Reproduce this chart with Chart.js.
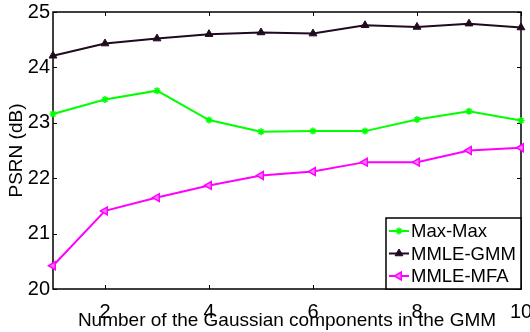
<!DOCTYPE html>
<html>
<head>
<meta charset="utf-8">
<script src="https://cdn.jsdelivr.net/npm/chart.js@4.4.0/dist/chart.umd.min.js"></script>
<style>
  html, body { margin: 0; padding: 0; background: #fff; }
  #wrap { width: 530px; height: 332px; }
</style>
</head>
<body>
<div id="wrap"><canvas id="myChart"></canvas></div>
<script>
const components = [1, 2, 3, 4, 5, 6, 7, 8, 9, 10];
const maxMax = [23.16, 23.42, 23.58, 23.05, 22.84, 22.85, 22.85, 23.06, 23.21, 23.04];
const mmleGmm = [24.21, 24.43, 24.52, 24.60, 24.63, 24.61, 24.76, 24.73, 24.79, 24.72];
const mmleMfa = [20.42, 21.41, 21.65, 21.87, 22.05, 22.12, 22.29, 22.29, 22.50, 22.55];
const xTicks = [2, 4, 6, 8, 10];
const yTicks = [20, 21, 22, 23, 24, 25];

const FONT = 'Liberation Sans, Arial, sans-serif';

function points(values) {
  return components.map((c, i) => ({ x: c, y: values[i] }));
}

// matlab style box with inward ticks
const framePlugin = {
  id: 'frame',
  beforeDatasetsDraw(chart) {
    const { ctx, chartArea: a, scales: { x, y } } = chart;
    ctx.save();
    ctx.strokeStyle = '#000';
    ctx.lineWidth = 1.5;
    ctx.strokeRect(a.left, a.top, a.right - a.left, a.bottom - a.top);
    ctx.lineWidth = 1;
    ctx.beginPath();
    xTicks.forEach(v => {
      const px = Math.round(x.getPixelForValue(v)) + 0.5;
      ctx.moveTo(px, a.bottom); ctx.lineTo(px, a.bottom - 4);
      ctx.moveTo(px, a.top); ctx.lineTo(px, a.top + 4);
    });
    yTicks.forEach(v => {
      const py = Math.round(y.getPixelForValue(v)) + 0.5;
      ctx.moveTo(a.left, py); ctx.lineTo(a.left + 4, py);
      ctx.moveTo(a.right, py); ctx.lineTo(a.right - 4, py);
    });
    ctx.stroke();
    ctx.restore();
  }
};

// legend box inside the lower right corner
const legendPlugin = {
  id: 'boxLegend',
  afterDatasetsDraw(chart) {
    const { ctx, chartArea: a } = chart;
    const w = 135, h = 71;
    const left = a.right - w, top = a.bottom - h;
    ctx.save();
    ctx.fillStyle = '#fff';
    ctx.fillRect(left, top, w, h);
    ctx.strokeStyle = '#000';
    ctx.lineWidth = 1.5;
    ctx.strokeRect(left, top, w, h);
    ctx.font = '18.5px ' + FONT;
    ctx.textBaseline = 'middle';
    chart.data.datasets.forEach((ds, i) => {
      const cy = top + 13 + i * 22.5;
      ctx.strokeStyle = ds.borderColor;
      ctx.lineWidth = 2;
      ctx.beginPath();
      ctx.moveTo(left + 3, cy); ctx.lineTo(left + 23, cy);
      ctx.stroke();
      ctx.fillStyle = ds.pointBackgroundColor;
      ctx.lineWidth = ds.pointBorderWidth;
      Chart.helpers.drawPoint(ctx, {
        pointStyle: ds.pointStyle, rotation: ds.pointRotation || 0,
        radius: ds.pointRadius, borderWidth: ds.pointBorderWidth
      }, left + 13, cy);
      ctx.fillStyle = '#000';
      ctx.fillText(ds.label, left + 25, cy + 1);
    });
    ctx.restore();
  }
};

new Chart(document.getElementById('myChart'), {
  type: 'line',
  data: {
    datasets: [{
      label: 'Max-Max',
      data: points(maxMax),
      borderColor: '#00ff00',
      pointBackgroundColor: '#00ff00',
      pointStyle: 'star',
      pointRadius: 3.5,
      pointBorderWidth: 1.5,
      borderWidth: 2,
      clip: false
    }, {
      label: 'MMLE-GMM',
      data: points(mmleGmm),
      borderColor: '#200a20',
      pointBackgroundColor: '#200a20',
      pointStyle: 'triangle',
      pointRadius: 4.5,
      pointBorderWidth: 1,
      borderWidth: 2,
      clip: false
    }, {
      label: 'MMLE-MFA',
      data: points(mmleMfa),
      borderColor: '#ff00ff',
      pointBackgroundColor: '#ff80ff',
      pointStyle: 'triangle',
      pointRotation: -90,
      pointRadius: 4.5,
      pointBorderWidth: 1.5,
      borderWidth: 2,
      clip: false
    }]
  },
  options: {
    responsive: true,
    maintainAspectRatio: false,
    animation: false,
    layout: { padding: { top: 12, right: 9, left: 0, bottom: 0 } },
    plugins: { legend: { display: false }, tooltip: { enabled: false } },
    elements: { line: { tension: 0 } },
    scales: {
      x: {
        type: 'linear',
        min: 1, max: 10,
        afterBuildTicks: s => { s.ticks = xTicks.map(v => ({ value: v })); },
        afterFit: s => { s.height = 43; s.paddingLeft = 0; s.paddingRight = 0; },
        grid: { display: false, drawTicks: false },
        border: { display: false },
        ticks: { color: '#000', font: { family: FONT, size: 20 }, padding: 11, maxRotation: 0 },
        title: {
          display: true,
          text: 'Number of the Gaussian components in the GMM',
          color: '#000',
          font: { family: FONT, size: 19 },
          padding: { top: 0, bottom: 0 }
        }
      },
      y: {
        min: 20, max: 25,
        afterBuildTicks: s => { s.ticks = yTicks.map(v => ({ value: v })); },
        afterFit: s => { s.width = 53; s.paddingTop = 0; s.paddingBottom = 0; },
        grid: { display: false, drawTicks: false },
        border: { display: false },
        ticks: { color: '#000', font: { family: FONT, size: 20 }, padding: 3 },
        title: {
          display: true,
          text: 'PSRN (dB)',
          color: '#000',
          font: { family: FONT, size: 19 },
          padding: { top: 5, bottom: 0 }
        }
      }
    }
  },
  plugins: [framePlugin, legendPlugin]
});
</script>
</body>
</html>
